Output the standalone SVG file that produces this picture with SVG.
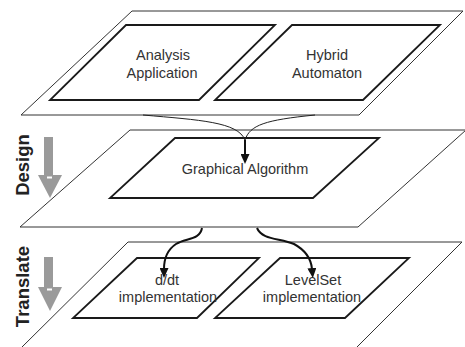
<svg xmlns="http://www.w3.org/2000/svg" width="465" height="347" viewBox="0 0 465 347">
<defs>
<style>
.plane{fill:#fff;stroke:#333;stroke-width:1}
.box{fill:#fff;stroke:#1a1a1a;stroke-width:1.8;stroke-linejoin:miter}
.lbl{font-family:"Liberation Sans",Arial,sans-serif;font-size:14.5px;fill:#333;text-anchor:middle}
.side{font-family:"Liberation Sans",Arial,sans-serif;font-size:18.5px;font-weight:bold;fill:#222;text-anchor:middle}
.thin{fill:none;stroke:#222;stroke-width:1}
.thick{fill:none;stroke:#111;stroke-width:2}
.grey{fill:#9a9a9a}
</style>
<marker id="ah" markerWidth="10" markerHeight="9" refX="1" refY="4.5" orient="auto" markerUnits="userSpaceOnUse">
<path d="M0,0 L10,4.5 L0,9 z" fill="#111"/>
</marker>
</defs>
<g id="planes">
<polygon id="plane-top" class="plane" points="132,11 463,11 359,115 21,115"/>
<polygon id="plane-mid" class="plane" points="130,130 466,130 358,227 20,227"/>
<polygon id="plane-bottom" class="plane" points="128,242 462,242 355,349 20,349"/>
</g>
<g id="node-analysis">
<polygon class="box" points="126,25 275,25 199,100 50,100"/>
<text class="lbl" x="163" y="60">Analysis</text>
<text class="lbl" x="162" y="77.5">Application</text>
</g>
<g id="node-hybrid">
<polygon class="box" points="292,25 440,25 363,100 215,100"/>
<text class="lbl" x="327" y="60">Hybrid</text>
<text class="lbl" x="327" y="77.5">Automaton</text>
</g>
<g id="node-graphical">
<polygon class="box" points="175,138 379,138 313,198 110,198"/>
<text class="lbl" x="245" y="174">Graphical Algorithm</text>
</g>
<g id="node-ddt">
<polygon class="box" points="137,258 259,258 197,318 73,318"/>
<text class="lbl" x="167" y="285">d/dt</text>
<text class="lbl" x="168" y="302">implementation</text>
</g>
<g id="node-levelset">
<polygon class="box" points="280,258 409,258 345,318 215,318"/>
<text class="lbl" x="313" y="285">LevelSet</text>
<text class="lbl" x="312" y="302">implementation</text>
</g>
<g id="connectors">
<path class="thin" d="M143,115 C200,120 238,122 245,140"/>
<path class="thin" d="M315,115 C265,120 250,125 245,140"/>
<path class="thick" d="M245,140 L245,155" marker-end="url(#ah)"/>
<path class="thick" d="M202,228 C200,240 186,238 176,244 C167,250 164,258 164,269" marker-end="url(#ah)"/>
<path class="thick" d="M257,228 C262,240 280,238 294,244 C305,250 311,258 312,269" marker-end="url(#ah)"/>
</g>
<g id="label-design">
<rect class="grey" x="44" y="137" width="9" height="39"/>
<polygon class="grey" points="38,175 62,175 50,198"/>
<rect x="47" y="176.5" width="5" height="2" fill="#fff"/>
<text class="side" transform="translate(29,165) rotate(-90)">Design</text>
</g>
<g id="label-translate">
<rect class="grey" x="44" y="257" width="9" height="31"/>
<polygon class="grey" points="38,287 62,287 50,311"/>
<rect x="47" y="288.5" width="5" height="2" fill="#fff"/>
<text class="side" transform="translate(29,286.5) rotate(-90)">Translate</text>
</g>
</svg>
